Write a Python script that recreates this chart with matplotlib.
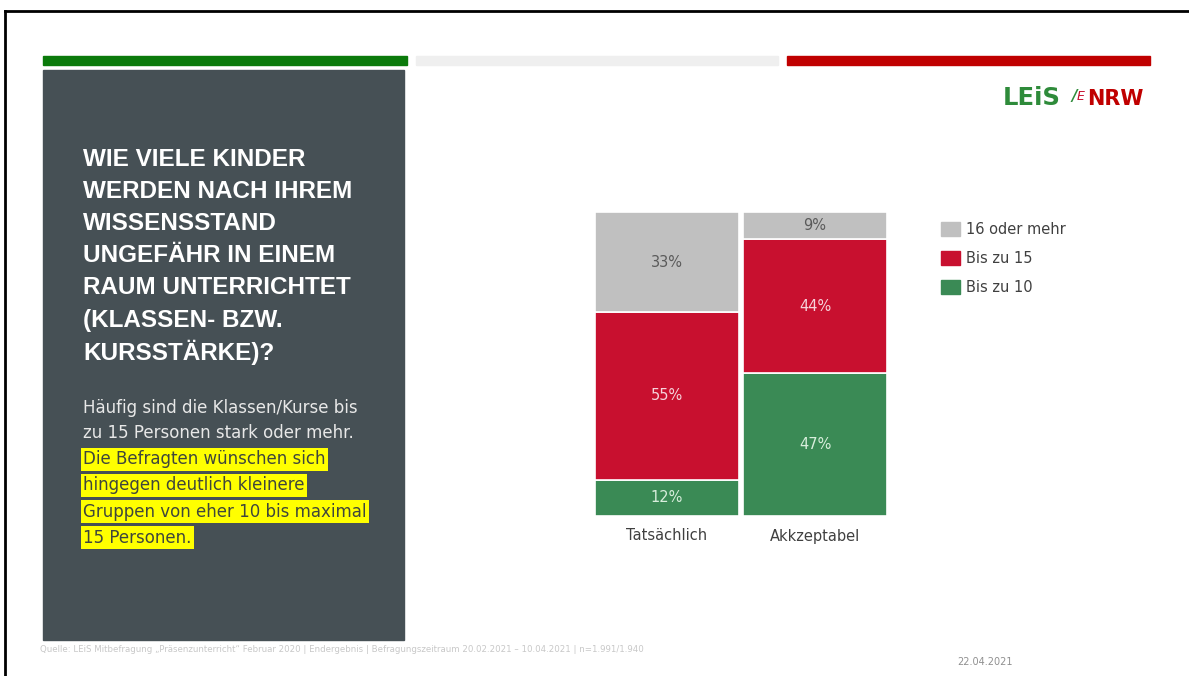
import matplotlib.pyplot as plt
from matplotlib.patches import Rectangle, Patch

# data
categories = ['Tatsächlich', 'Akkzeptabel']
series_names = ['Bis zu 10', 'Bis zu 15', '16 oder mehr']
bis_10 = [12, 47]
bis_15 = [55, 44]
ab_16 = [33, 9]
series_colors = ['#3a8a55', '#c8102f', '#c0c0c0']
label_colors = ['#d8eedc', '#f6d2da', '#5a5a5a']

title_lines = ['WIE VIELE KINDER', 'WERDEN NACH IHREM', 'WISSENSSTAND',
               'UNGEFÄHR IN EINEM', 'RAUM UNTERRICHTET', '(KLASSEN- BZW.',
               'KURSSTÄRKE)?']
body_lines = ['Häufig sind die Klassen/Kurse bis', 'zu 15 Personen stark oder mehr.']
marked_lines = ['Die Befragten wünschen sich', 'hingegen deutlich kleinere',
                'Gruppen von eher 10 bis maximal', '15 Personen.']

plt.rcParams['font.family'] = ['DejaVu Sans']

W, H = 1189, 676
fig = plt.figure(figsize=(W / 100, H / 100), dpi=100)

# slide background in pixel coordinates
bg = fig.add_axes([0, 0, 1, 1])
bg.set_xlim(0, W)
bg.set_ylim(H, 0)
bg.axis('off')

bg.plot([5, W], [11, 11], color='black', lw=2)
bg.plot([5, 5], [11, H], color='black', lw=2)

bg.add_patch(Rectangle((43, 56), 364, 9, color='#0b7a0b'))
bg.add_patch(Rectangle((416, 56), 362, 9, color='#efefef'))
bg.add_patch(Rectangle((787, 56), 363, 9, color='#c00000'))
bg.add_patch(Rectangle((43, 70), 361, 570, color='#465055'))

for i, line in enumerate(title_lines):
    bg.text(83, 159 + i * 32.2, line, color='white', fontsize=17.5,
            fontweight='bold', va='center', ha='left',
            family='Liberation Sans')

for i, line in enumerate(body_lines):
    bg.text(83, 408 + i * 25, line, color='#e8e8e8', fontsize=12,
            va='center', ha='left')
for i, line in enumerate(marked_lines):
    bg.text(83, 459 + i * 26.3, line, color='#3f463c', fontsize=12,
            va='center', ha='left',
            bbox=dict(boxstyle='square,pad=0.15', fc='#ffff00', ec='none'))

# logo
bg.text(1003, 98, 'LEiS', color='#2e8b3a', fontsize=17.5, fontweight='bold',
        va='center', ha='left')
bg.text(1071, 96, '/', color='#2e8b3a', fontsize=11, fontstyle='italic',
        fontweight='bold', va='center', ha='left')
bg.text(1077, 97, 'E', color='#c8102f', fontsize=9, fontstyle='italic',
        va='center', ha='left')
bg.text(1087, 99, 'NRW', color='#c00000', fontsize=15, fontweight='bold',
        va='center', ha='left')

bg.text(40, 650, 'Quelle: LEiS Mitbefragung „Präsenzunterricht“ Februar 2020 | '
        'Endergebnis | Befragungszeitraum 20.02.2021 – 10.04.2021 | n=1.991/1.940',
        color='#c8c8c8', fontsize=6.2, va='center', ha='left')
bg.text(957, 662, '22.04.2021', color='#909090', fontsize=7,
        va='center', ha='left')

# stacked bars
ax = fig.add_axes([595 / W, 1 - 516 / H, 292 / W, 304 / H])
ax.patch.set_alpha(0)
x = range(len(categories))
bottom = [0, 0]
for vals, name, col, lc in zip([bis_10, bis_15, ab_16], series_names,
                               series_colors, label_colors):
    bars = ax.bar(x, vals, bottom=bottom, width=0.97, color=col,
                  edgecolor='white', linewidth=1.2, label=name)
    ax.bar_label(bars, labels=[f'{v}%' for v in vals], label_type='center',
                 color=lc, fontsize=10.5)
    bottom = [b + v for b, v in zip(bottom, vals)]

ax.set_xlim(-0.485, 1.485)
ax.set_ylim(0, 100)
ax.set_xticks(list(x))
ax.set_xticklabels(categories, fontsize=10.5, color='#404040')
ax.tick_params(axis='x', length=0, pad=9)
ax.set_yticks([])
for s in ax.spines.values():
    s.set_visible(False)

handles = [Patch(color=c) for c in series_colors[::-1]]
ax.legend(handles, series_names[::-1], loc='upper left',
          bbox_to_anchor=(928 / W, 1 - 209 / H), bbox_transform=fig.transFigure,
          frameon=False, fontsize=10.5, labelcolor='#404040',
          handlelength=1.3, handleheight=1.1, handletextpad=0.4,
          labelspacing=0.95)

fig.savefig('out.png', dpi=100)
